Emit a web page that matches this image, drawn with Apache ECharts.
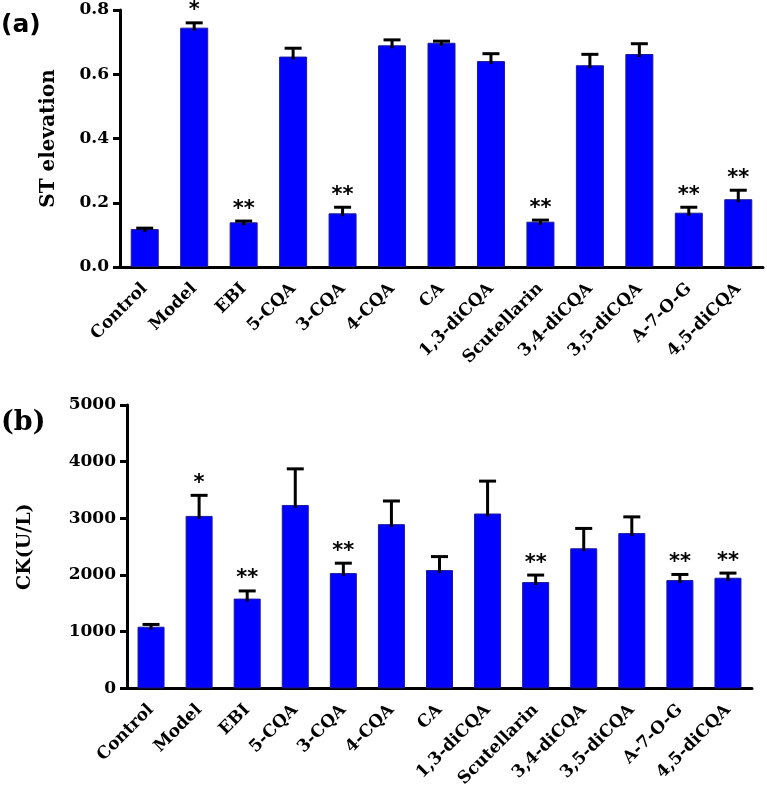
<!DOCTYPE html>
<html>
<head>
<meta charset="utf-8">
<script src="https://cdn.jsdelivr.net/npm/echarts@6/dist/echarts.min.js"></script>
<style>html,body{margin:0;padding:0;background:#fff;}#c{width:767px;height:790px;}</style>
</head>
<body>
<div id="c"></div>
<script>
const categories = ['Control', 'Model', 'EBI', '5-CQA', '3-CQA', '4-CQA', 'CA', '1,3-diCQA', 'Scutellarin', '3,4-diCQA', '3,5-diCQA', 'A-7-O-G', '4,5-diCQA'];
const stValues = [0.118, 0.745, 0.139, 0.655, 0.167, 0.690, 0.698, 0.641, 0.141, 0.628, 0.663, 0.169, 0.211];
const stErrors = [0.003, 0.015, 0.004, 0.026, 0.019, 0.017, 0.005, 0.023, 0.005, 0.034, 0.032, 0.017, 0.028];
const stStars = ['', '*', '**', '', '**', '', '', '', '**', '', '', '**', '**'];
const ckValues = [1088, 3043, 1584, 3236, 2034, 2898, 2087, 3085, 1876, 2472, 2740, 1911, 1952];
const ckErrors = [40, 363, 135, 637, 175, 408, 238, 572, 123, 350, 286, 99, 82];
const ckStars = ['', '*', '**', '', '**', '', '', '', '**', '', '', '**', '**'];
const stTicks = { min: 0, max: 0.8, interval: 0.2 };
const ckTicks = { min: 0, max: 5000, interval: 1000 };

const SERIF = '"DejaVu Serif", "Liberation Serif", serif';
const chart = echarts.init(document.getElementById('c'));

function errRender(stars) {
  return function (params, api) {
    const i = api.value(0), v = api.value(1), e = api.value(2);
    const base = api.coord([i, v]);
    const top = api.coord([i, v + e]);
    const children = [
      { type: 'line', shape: { x1: base[0], y1: base[1] + 3, x2: top[0], y2: top[1] }, style: { stroke: '#000', lineWidth: 3 } },
      { type: 'line', shape: { x1: top[0] - 8.5, y1: top[1], x2: top[0] + 8.5, y2: top[1] }, style: { stroke: '#000', lineWidth: 3 } }
    ];
    const s = stars[params.dataIndex];
    if (s) {
      children.push({ type: 'text', style: { text: s, x: top[0], y: top[1] - 12, align: 'center', verticalAlign: 'middle', font: 'bold 21px "DejaVu Sans"', fill: '#000' } });
    }
    return { type: 'group', children };
  };
}

function xAxisOpt(gi) {
  return {
    type: 'category', gridIndex: gi, data: categories, boundaryGap: true,
    axisLine: { lineStyle: { color: '#000', width: 3 } },
    axisTick: { alignWithLabel: true, length: 7, lineStyle: { color: '#000', width: 3 } },
    axisLabel: { rotate: 45, margin: 19, color: '#000', fontFamily: SERIF, fontWeight: 'bold', fontSize: 17, interval: 0 }
  };
}

function yAxisOpt(gi, t, name, gap, fmt, nameStyle) {
  return {
    type: 'value', gridIndex: gi, min: t.min, max: t.max, interval: t.interval,
    name: name, nameLocation: 'middle', nameGap: gap, nameTextStyle: nameStyle,
    splitLine: { show: false },
    axisLine: { show: true, lineStyle: { color: '#000', width: 3 } },
    axisTick: { show: true, length: 7, lineStyle: { color: '#000', width: 3 } },
    axisLabel: { margin: 11, color: '#000', fontFamily: SERIF, fontWeight: 'bold', fontSize: 17, formatter: fmt }
  };
}

const barStyle = { color: '#0000FF', borderColor: '#1a1a9a', borderWidth: 1 };

chart.setOption({
  animation: false,
  backgroundColor: '#fff',
  grid: [
    { left: 120, top: 10, width: 643, height: 257 },
    { left: 127, top: 405, width: 625, height: 285 }
  ],
  xAxis: [xAxisOpt(0), xAxisOpt(1)],
  yAxis: [
    yAxisOpt(0, stTicks, 'ST elevation', 61, v => v.toFixed(1), { color: '#000', fontFamily: SERIF, fontWeight: 'bold', fontSize: 20 }),
    yAxisOpt(1, ckTicks, 'CK(U/L)', 92, v => String(v), { color: '#000', fontFamily: SERIF, fontWeight: 'bold', fontSize: 19 })
  ],
  graphic: [
    { type: 'text', left: 1, top: 13, style: { text: '(a)', font: 'bold 25px "DejaVu Sans"', fill: '#000' } },
    { type: 'text', left: 1, top: 409, style: { text: '(b)', font: 'bold 27px "DejaVu Serif"', fill: '#000' } }
  ],
  series: [
    { type: 'bar', xAxisIndex: 0, yAxisIndex: 0, data: stValues, barWidth: 28, itemStyle: barStyle },
    { type: 'custom', xAxisIndex: 0, yAxisIndex: 0, data: stValues.map((v, i) => [i, v, stErrors[i]]), renderItem: errRender(stStars), z: 5 },
    { type: 'bar', xAxisIndex: 1, yAxisIndex: 1, data: ckValues, barWidth: 27, itemStyle: barStyle },
    { type: 'custom', xAxisIndex: 1, yAxisIndex: 1, data: ckValues.map((v, i) => [i, v, ckErrors[i]]), renderItem: errRender(ckStars), z: 5 }
  ]
});
</script>
</body>
</html>
